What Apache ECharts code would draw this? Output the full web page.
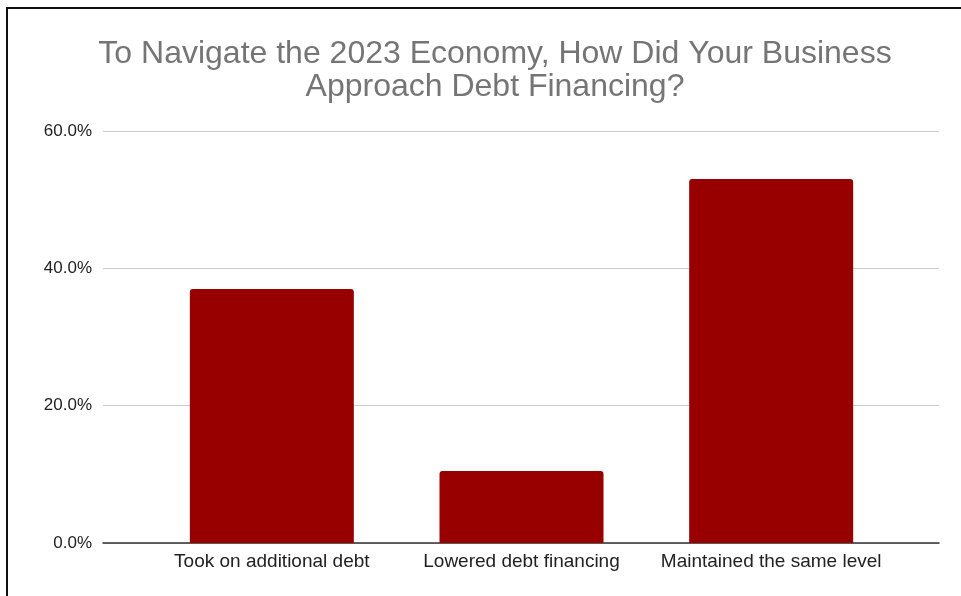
<!DOCTYPE html>
<html>
<head>
<meta charset="utf-8">
<script src="https://cdn.jsdelivr.net/npm/echarts@6/dist/echarts.min.js"></script>
<style>
  html, body { margin: 0; padding: 0; background: #fff; }
  #chart { width: 961px; height: 596px; }
</style>
</head>
<body>
<div id="chart"></div>
<script>
// Survey answers and their shares (percent of respondents)
const categories = ['Took on additional debt', 'Lowered debt financing', 'Maintained the same level'];
const shares = [37.0, 10.5, 53.0];
const yTicks = { min: 0, max: 60, step: 20 };

const FONT = 'Liberation Sans, Arial, Helvetica, sans-serif';
const chart = echarts.init(document.getElementById('chart'), null, { renderer: 'canvas' });

const valueAxisBase = {
  type: 'value',
  min: yTicks.min,
  max: yTicks.max,
  interval: yTicks.step
};

chart.setOption({
  backgroundColor: '#ffffff',
  animation: false,
  title: {
    text: 'To Navigate the 2023 Economy, How Did Your Business\nApproach Debt Financing?',
    left: 490,
    top: 33,
    textAlign: 'center',
    textStyle: {
      fontFamily: FONT,
      fontSize: 32,
      fontWeight: 'normal',
      color: '#757575',
      lineHeight: 33
    }
  },
  graphic: [{
    type: 'rect',
    shape: { x: 7, y: 8, width: 1000, height: 700 },
    style: { fill: 'none', stroke: '#111', lineWidth: 2 },
    silent: true
  }],
  grid: [
    // full-width frame: gridlines, baseline and tick labels
    { left: 103, right: 22, top: 131, bottom: 53, containLabel: false },
    // inset band holding the bars and category labels
    { left: 147, right: 65, top: 131, bottom: 53, containLabel: false }
  ],
  xAxis: [
    {
      gridIndex: 0,
      type: 'category',
      data: categories,
      axisTick: { show: false },
      axisLabel: { show: false },
      axisLine: { lineStyle: { color: '#333', width: 1.5 } }
    },
    {
      gridIndex: 1,
      type: 'category',
      data: categories,
      axisTick: { show: false },
      axisLine: { show: false },
      axisLabel: {
        interval: 0,
        hideOverlap: false,
        fontFamily: FONT,
        fontSize: 19,
        color: '#222',
        margin: 9
      }
    }
  ],
  yAxis: [
    Object.assign({}, valueAxisBase, {
      gridIndex: 0,
      axisLine: { show: false },
      axisTick: { show: false },
      splitLine: { lineStyle: { color: '#cccccc', width: 1 } },
      axisLabel: {
        fontFamily: FONT,
        fontSize: 17,
        color: '#222',
        margin: 11,
        formatter: v => v.toFixed(1) + '%'
      }
    }),
    Object.assign({}, valueAxisBase, {
      gridIndex: 1,
      show: false,
      splitLine: { show: false }
    })
  ],
  series: [{
    type: 'bar',
    xAxisIndex: 1,
    yAxisIndex: 1,
    data: shares,
    barWidth: 164,
    itemStyle: { color: '#980000', borderRadius: [3, 3, 0, 0] }
  }]
});
</script>
</body>
</html>
